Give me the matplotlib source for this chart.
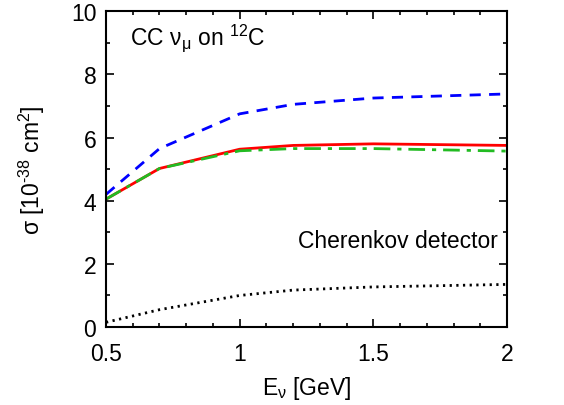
import numpy as np
import matplotlib
matplotlib.use('Agg')
import matplotlib.pyplot as plt
from matplotlib.ticker import MultipleLocator

plt.rcParams['font.family'] = ['Liberation Sans', 'DejaVu Sans']
plt.rcParams['mathtext.fontset'] = 'custom'
plt.rcParams['mathtext.rm'] = 'Liberation Sans'
plt.rcParams['mathtext.it'] = 'Liberation Sans'
plt.rcParams['mathtext.sf'] = 'Liberation Sans'

energy = [0.5, 0.7, 1.0, 1.2, 1.5, 2.0]
sigma_blue = [4.2, 5.65, 6.75, 7.05, 7.25, 7.38]
sigma_red = [4.05, 5.02, 5.63, 5.75, 5.8, 5.75]
sigma_green = [4.05, 5.02, 5.58, 5.65, 5.65, 5.57]
sigma_black = [0.15, 0.55, 1.0, 1.17, 1.27, 1.35]

fs = 16.5

fig = plt.figure(figsize=(5.64, 4.06), dpi=100)
ax = fig.add_axes([0.188, 0.192, 0.711, 0.778])

ax.plot(energy, sigma_blue, color='#0000ff', lw=2, dashes=(4, 3))
ax.plot(energy, sigma_red, color='#ff0000', lw=2)
ax.plot(energy, sigma_green, color='#22bb22', lw=2, dashes=(6, 2.5, 1.5, 2.5))
ax.plot(energy, sigma_black, color='black', lw=2, dashes=(0.8, 1.6))

ax.set_xlim(0.5, 2)
ax.set_ylim(0, 10)
ax.xaxis.set_minor_locator(MultipleLocator(0.1))
ax.yaxis.set_major_locator(MultipleLocator(2))
ax.yaxis.set_minor_locator(MultipleLocator(1))
ax.set_xticks([0.5, 1, 1.5, 2])
ax.set_xticklabels(['0.5', '1', '1.5', '2'])
ax.tick_params(which='both', direction='in', top=True, right=True, labelsize=fs, width=1.2)
ax.tick_params(which='major', length=6, pad=7)
ax.tick_params(axis='x', which='major', pad=11)
ax.tick_params(which='minor', length=3)
for s in ax.spines.values():
    s.set_linewidth(1.5)

ax.set_xlabel('E$_\\mathrm{\u03bd}$ [GeV]', fontsize=fs, labelpad=6)
ax.set_ylabel('\u03c3 [10$^{\\mathrm{\u2010}38}$ cm$^2$]', fontsize=fs, labelpad=17)

ax.text(0.59, 8.95, 'CC \u03bd$_\\mathrm{\u03bc}$ on $^{12}$C', fontsize=fs)
ax.text(1.965, 2.55, 'Cherenkov detector', fontsize=fs, ha='right')

fig.savefig('out.png', dpi=100)
